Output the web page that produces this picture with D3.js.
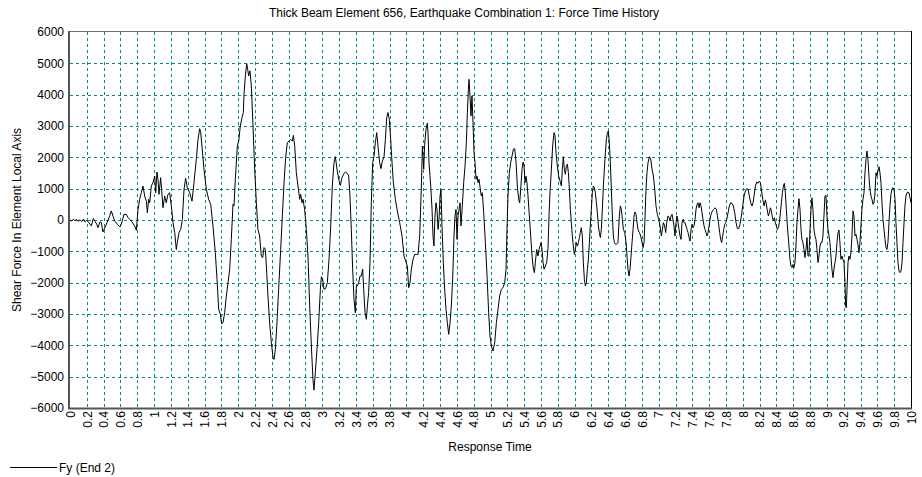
<!DOCTYPE html>
<html>
<head>
<meta charset="utf-8">
<script src="https://cdn.jsdelivr.net/npm/d3@7"></script>
<style>
  html, body { margin: 0; padding: 0; background: #ffffff; }
  svg { display: block; font-family: "Liberation Sans", Arial, sans-serif; }
</style>
</head>
<body>
<svg id="chart" width="922" height="477"></svg>
<script>
// Response time (s) and shear force Fy (End 2) for thick beam element 656
const time = [
  0.000, 0.020, 0.040, 0.060, 0.080, 0.100, 0.120, 0.140, 0.160, 0.180, 0.200, 0.220,
  0.254, 0.277, 0.293, 0.317, 0.333, 0.356, 0.373, 0.392, 0.432, 0.472, 0.491, 0.531,
  0.563, 0.591, 0.610, 0.642, 0.670, 0.690, 0.729, 0.769, 0.789, 0.809, 0.828, 0.848,
  0.868, 0.888, 0.908, 0.920, 0.935, 0.947, 0.967, 0.987, 1.007, 1.019, 1.034, 1.046,
  1.058, 1.078, 1.106, 1.126, 1.145, 1.165, 1.185, 1.205, 1.225, 1.245, 1.264, 1.276,
  1.296, 1.316, 1.336, 1.356, 1.375, 1.395, 1.423, 1.451, 1.474, 1.502, 1.522, 1.542,
  1.554, 1.569, 1.593, 1.621, 1.649, 1.673, 1.700, 1.728, 1.748, 1.768, 1.788, 1.803,
  1.819, 1.839, 1.859, 1.879, 1.899, 1.918, 1.938, 1.950, 1.966, 1.990, 2.006, 2.025,
  2.045, 2.061, 2.069, 2.085, 2.101, 2.113, 2.124, 2.140, 2.156, 2.176, 2.196, 2.216,
  2.235, 2.255, 2.275, 2.291, 2.307, 2.323, 2.339, 2.354, 2.374, 2.394, 2.414, 2.426,
  2.442, 2.461, 2.481, 2.505, 2.525, 2.545, 2.564, 2.584, 2.604, 2.624, 2.644, 2.656,
  2.672, 2.691, 2.711, 2.731, 2.743, 2.759, 2.771, 2.790, 2.810, 2.830, 2.850, 2.870,
  2.889, 2.901, 2.917, 2.937, 2.957, 2.977, 2.989, 3.004, 3.020, 3.040, 3.060, 3.080,
  3.100, 3.119, 3.139, 3.155, 3.175, 3.195, 3.215, 3.234, 3.258, 3.278, 3.298, 3.314,
  3.329, 3.345, 3.361, 3.377, 3.393, 3.405, 3.417, 3.433, 3.448, 3.464, 3.480, 3.492,
  3.508, 3.524, 3.536, 3.551, 3.567, 3.583, 3.599, 3.615, 3.631, 3.647, 3.662, 3.682,
  3.698, 3.714, 3.734, 3.750, 3.766, 3.781, 3.797, 3.813, 3.829, 3.845, 3.869, 3.892,
  3.920, 3.948, 3.972, 3.991, 4.011, 4.027, 4.043, 4.059, 4.079, 4.098, 4.118, 4.138,
  4.158, 4.178, 4.190, 4.206, 4.217, 4.233, 4.249, 4.257, 4.269, 4.289, 4.305, 4.316,
  4.328, 4.340, 4.352, 4.364, 4.376, 4.388, 4.400, 4.412, 4.423, 4.439, 4.455, 4.471,
  4.487, 4.503, 4.519, 4.534, 4.550, 4.566, 4.578, 4.590, 4.602, 4.614, 4.626, 4.638,
  4.649, 4.665, 4.681, 4.697, 4.713, 4.725, 4.737, 4.745, 4.756, 4.768, 4.780, 4.792,
  4.804, 4.816, 4.828, 4.840, 4.852, 4.864, 4.879, 4.891, 4.903, 4.919, 4.939, 4.959,
  4.978, 4.994, 5.010, 5.030, 5.050, 5.070, 5.089, 5.109, 5.129, 5.149, 5.169, 5.185,
  5.196, 5.208, 5.224, 5.240, 5.256, 5.272, 5.288, 5.304, 5.319, 5.335, 5.347, 5.359,
  5.375, 5.387, 5.399, 5.411, 5.422, 5.434, 5.446, 5.462, 5.478, 5.494, 5.510, 5.522,
  5.533, 5.549, 5.565, 5.577, 5.589, 5.601, 5.613, 5.625, 5.637, 5.652, 5.668, 5.684,
  5.696, 5.708, 5.724, 5.739, 5.755, 5.767, 5.779, 5.795, 5.811, 5.827, 5.843, 5.854,
  5.866, 5.878, 5.890, 5.902, 5.914, 5.926, 5.938, 5.950, 5.961, 5.973, 5.985, 5.997,
  6.009, 6.021, 6.033, 6.045, 6.057, 6.068, 6.080, 6.092, 6.104, 6.116, 6.128, 6.140,
  6.152, 6.164, 6.176, 6.187, 6.199, 6.211, 6.223, 6.235, 6.247, 6.259, 6.271, 6.283,
  6.294, 6.306, 6.318, 6.330, 6.342, 6.354, 6.366, 6.378, 6.390, 6.401, 6.413, 6.425,
  6.437, 6.449, 6.461, 6.473, 6.485, 6.501, 6.516, 6.532, 6.544, 6.556, 6.568, 6.580,
  6.596, 6.612, 6.623, 6.635, 6.647, 6.659, 6.671, 6.683, 6.695, 6.707, 6.719, 6.731,
  6.742, 6.754, 6.770, 6.786, 6.802, 6.814, 6.826, 6.838, 6.849, 6.861, 6.873, 6.889,
  6.905, 6.921, 6.937, 6.953, 6.968, 6.984, 7.000, 7.016, 7.032, 7.044, 7.056, 7.071,
  7.083, 7.095, 7.111, 7.123, 7.135, 7.147, 7.159, 7.170, 7.182, 7.194, 7.206, 7.218,
  7.230, 7.242, 7.254, 7.266, 7.277, 7.289, 7.301, 7.313, 7.325, 7.337, 7.349, 7.361,
  7.373, 7.385, 7.396, 7.408, 7.420, 7.432, 7.444, 7.456, 7.468, 7.480, 7.492, 7.503,
  7.515, 7.527, 7.539, 7.551, 7.563, 7.575, 7.587, 7.599, 7.610, 7.622, 7.638, 7.654,
  7.670, 7.686, 7.698, 7.710, 7.725, 7.737, 7.749, 7.761, 7.773, 7.785, 7.797, 7.809,
  7.825, 7.840, 7.856, 7.872, 7.888, 7.904, 7.920, 7.936, 7.951, 7.967, 7.983, 7.999,
  8.015, 8.031, 8.047, 8.062, 8.078, 8.094, 8.110, 8.122, 8.134, 8.150, 8.165, 8.181,
  8.197, 8.209, 8.221, 8.237, 8.253, 8.269, 8.280, 8.292, 8.304, 8.316, 8.328, 8.340,
  8.352, 8.364, 8.376, 8.387, 8.399, 8.411, 8.423, 8.435, 8.447, 8.459, 8.471, 8.483,
  8.494, 8.506, 8.518, 8.530, 8.549, 8.561, 8.573, 8.585, 8.596, 8.608, 8.620, 8.632,
  8.644, 8.656, 8.668, 8.680, 8.692, 8.703, 8.715, 8.727, 8.739, 8.751, 8.763, 8.775,
  8.787, 8.799, 8.811, 8.822, 8.834, 8.846, 8.858, 8.870, 8.882, 8.894, 8.906, 8.918,
  8.929, 8.941, 8.953, 8.965, 8.977, 8.989, 9.001, 9.013, 9.025, 9.036, 9.048, 9.060,
  9.072, 9.084, 9.096, 9.108, 9.120, 9.132, 9.144, 9.155, 9.167, 9.179, 9.191, 9.203,
  9.215, 9.223, 9.231, 9.239, 9.251, 9.262, 9.274, 9.286, 9.298, 9.310, 9.322, 9.334,
  9.346, 9.358, 9.369, 9.381, 9.393, 9.405, 9.417, 9.429, 9.441, 9.453, 9.465, 9.476,
  9.488, 9.500, 9.512, 9.524, 9.536, 9.548, 9.560, 9.572, 9.584, 9.595, 9.607, 9.619,
  9.631, 9.643, 9.655, 9.667, 9.679, 9.691, 9.703, 9.714, 9.726, 9.738, 9.750, 9.762,
  9.774, 9.786, 9.798, 9.810, 9.821, 9.833, 9.845, 9.857, 9.869, 9.881, 9.893, 9.905,
  9.917, 9.928, 9.940, 9.952, 9.964, 9.976, 9.988, 10.000
];

const shearFy = [
  0, -30, 20, -20, 15, -40, 10, -50, 30, -60, -10, -70,
  -190, 50, -30, -130, -245, -60, -85, -380, -140, 130, 290, -30,
  -140, -210, -140, 180, 180, 75, -30, -190, -330, 340, 660, 870,
  1085, 765, 600, 230, 660, 550, 1085, 1190, 1400, 870, 1530, 1300,
  820, 1350, 390, 765, 550, 820, 870, 450, -85, -400, -940, -720,
  -400, -300, 20, 980, 1330, 1030, 870, 600, 1190, 1940, 2570, 2915,
  2790, 2360, 1620, 980, 660, 500, -190, -1040, -1890, -2850, -3010, -3310,
  -3280, -2960, -2430, -2000, -1570, -620, 500, 450, 1300, 2360, 2520, 3000,
  3270, 3430, 4010, 4600, 4990, 4810, 4600, 4760, 4280, 3000, 1620, 550,
  -300, -510, -1150, -1200, -880, -940, -1680, -2430, -3280, -3910, -4390, -4450,
  -4130, -3280, -2210, -940, 130, 1190, 1990, 2470, 2520, 2570, 2520, 2700,
  2360, 1510, 1085, 660, 820, 550, 660, 340, -300, -1150, -2740, -4020,
  -5085, -5430, -4870, -4130, -3280, -2210, -1810, -1890, -2210, -2190, -2000, -1255,
  -190, 1085, 1830, 2020, 1620, 1300, 1105, 1350, 1490, 1530, 1490, 1400,
  765, -300, -1570, -2530, -2960, -2100, -2100, -2000, -1790, -1790, -1570, -2210,
  -2960, -3170, -2740, -2320, -1360, 550, 1830, 2040, 2470, 2790, 2360, 1830,
  1640, 1880, 2020, 2570, 3270, 3430, 3210, 2570, 1830, 1190, 660, 290,
  -85, -510, -1150, -1310, -1470, -2160, -2000, -1570, -1255, -1100, -1100, -1100,
  -510, 1085, 2360, 1620, 2410, 2890, 3090, 2800, 1830, 1085, 340, -510,
  -830, 130, 550, 340, -300, 20, 765, 980, -190, -1360, -2210, -2850,
  -3280, -3650, -3280, -2740, -1890, -510, 130, 340, -620, 130, 340, 550,
  -190, 450, 1190, 1720, 2470, 3430, 4170, 4490, 3960, 3320, 3960, 3110,
  2150, 1830, 1300, 1400, 1190, 1300, 980, 765, 870, 230, -720, -1790,
  -2960, -3700, -4020, -4180, -3910, -3280, -2850, -2430, -2210, -2160, -2000, -1570,
  -300, 765, 1510, 1830, 2040, 2260, 2280, 1830, 1085, 660, 550, 980,
  1620, 1850, 1720, 1190, 1400, 1190, 765, 130, -510, -1150, -1570, -1680,
  -1360, -940, -1150, -940, -830, -720, -940, -1360, -1570, -1470, -1360, -900,
  150, 900, 1620, 2360, 2790, 2700, 2150, 1720, 1400, 1240, 1085, 1620,
  2020, 1620, 1460, 1720, 1780, 1510, 980, 340, -85, -510, -830, -1100,
  -940, -720, -830, -720, -560, -400, -245, -510, -1360, -1890, -2100, -2000,
  -1570, -1255, -720, -190, 340, 870, 1085, 1030, 870, 550, 230, -190,
  -400, -560, -300, 340, 1085, 1620, 2150, 2570, 2790, 2840, 2470, 1830,
  980, 130, -510, -720, -770, -770, -720, 130, 450, 340, 20, -300,
  -400, -720, -1150, -1570, -1790, -1570, -1150, -720, -300, 130, 255, 180,
  -85, -300, -400, -510, -720, -880, -720, 130, 980, 1510, 1830, 2020,
  1940, 1620, 1400, 980, 450, 180, 20, -190, -510, -300, -85, -190,
  -400, -85, 130, 75, -30, 130, 180, 20, -190, -510, -85, 130,
  -85, -300, -510, -620, -85, 20, -85, -85, -190, -300, -400, -560,
  -670, -300, -140, -245, -190, 20, 340, 500, 550, 390, 550, 450,
  230, 20, -190, -300, -400, -510, -400, -190, 20, 180, 290, 340,
  390, 340, 130, -85, -400, -620, -720, -510, -300, -140, -85, 20,
  230, 450, 550, 530, 450, 230, -85, -275, -275, -140, 130, 450,
  765, 925, 1000, 980, 765, 550, 450, 550, 765, 1085, 1210, 1170,
  1240, 1190, 980, 660, 450, 640, 500, 290, 130, 230, 390, 290,
  75, -30, 75, -85, -190, -300, -245, -85, 230, 550, 870, 1085,
  1170, 870, 340, -190, -830, -1255, -1470, -1520, -1420, -1520, -1360, -830,
  -85, 340, 680, 340, -300, -620, -720, -940, -1200, -940, -560, -1150,
  -1150, -300, 340, 710, 340, -300, -510, -620, -940, -1360, -1150, -830,
  -720, -720, -510, 130, 765, 785, 130, -300, -510, -720, -1150, -1570,
  -1840, -1570, -1360, -1150, -720, -400, -320, -720, -1255, -1150, -1255, -1360,
  -2000, -2740, -2800, -2210, -1360, -1150, -1255, -1040, -510, 290, 130, -510,
  -460, -620, -780, -1040, -720, -190, 340, 660, 870, 1510, 1940, 2200,
  1940, 1400, 980, 765, 660, 500, 550, 870, 1510, 1400, 1560, 1700,
  1510, 1190, 550, 20, -300, -620, -880, -940, -720, -85, 450, 820,
  1000, 1030, 980, 660, -85, -720, -1360, -1630, -1680, -1630, -1360, -720,
  -85, 450, 765, 870, 890, 870, 710, 550
];

const xTicks = d3.range(0, 51).map(i => +(i * 0.2).toFixed(1));
const yTicks = d3.range(-6000, 6001, 1000);

const chartTitle = "Thick Beam Element 656, Earthquake Combination 1: Force Time History";
const xTitle = "Response Time";
const yTitle = "Shear Force In Element Local Axis";
const seriesName = "Fy (End 2)";

const svg = d3.select("#chart");
const W = 922, H = 477;
const plot = { left: 70, right: 911, top: 32, bottom: 408 };

const x = d3.scaleLinear().domain([0, 10]).range([plot.left, plot.right]);
const y = d3.scaleLinear().domain([-6000, 6000]).range([plot.bottom, plot.top]);

svg.append("rect").attr("width", W).attr("height", H).attr("fill", "#ffffff");

// dashed grid
const grid = svg.append("g").attr("stroke", "#008b8b").attr("stroke-width", 1)
  .attr("stroke-dasharray", "3,3").attr("shape-rendering", "crispEdges");
grid.selectAll("line.h").data(yTicks.slice(1, -1)).join("line")
  .attr("x1", plot.left).attr("x2", plot.right)
  .attr("y1", d => Math.round(y(d)) + 0.5).attr("y2", d => Math.round(y(d)) + 0.5);
grid.selectAll("line.v").data(xTicks.slice(1, -1)).join("line")
  .attr("y1", plot.top).attr("y2", plot.bottom)
  .attr("x1", d => Math.round(x(d)) + 0.5).attr("x2", d => Math.round(x(d)) + 0.5);

// y axis labels
const yAxis = d3.axisLeft(y).tickValues(yTicks).tickSize(0).tickPadding(6).tickFormat(d3.format("d"));
const gy = svg.append("g").attr("transform", `translate(${plot.left},0)`).call(yAxis);
gy.select(".domain").remove();
gy.selectAll("text").attr("font-size", 12).attr("fill", "#000")
  .attr("font-family", "'Liberation Sans', Arial, sans-serif");

// x axis labels, rotated
const xAxis = d3.axisBottom(x).tickValues(xTicks).tickSize(0).tickPadding(0).tickFormat(d => String(d));
const gx = svg.append("g").attr("transform", `translate(0,${plot.bottom})`).call(xAxis);
gx.select(".domain").remove();
gx.selectAll("text")
  .attr("font-size", 12).attr("fill", "#000")
  .attr("font-family", "'Liberation Sans', Arial, sans-serif")
  .attr("text-anchor", "end")
  .attr("transform", "rotate(-90)")
  .attr("x", -3).attr("y", 0).attr("dy", "0.35em");

// force trace
const pts = time.map((t, i) => [t, shearFy[i]]);
const line = d3.line().x(d => x(d[0])).y(d => y(d[1]));
svg.append("path").datum(pts)
  .attr("d", line).attr("fill", "none").attr("stroke", "#000").attr("stroke-width", 1)
  .attr("stroke-linejoin", "round");

// frame
svg.append("line").attr("x1", plot.left).attr("x2", plot.right + 1)
  .attr("y1", plot.top - 0.5).attr("y2", plot.top - 0.5).attr("stroke", "#6e6e6e");
svg.append("line").attr("x1", plot.right + 0.5).attr("x2", plot.right + 0.5)
  .attr("y1", plot.top - 1).attr("y2", plot.bottom).attr("stroke", "#000");
svg.append("line").attr("x1", plot.left - 1).attr("x2", plot.left - 1)
  .attr("y1", plot.top - 1).attr("y2", plot.bottom + 1).attr("stroke", "#555").attr("stroke-width", 2);
svg.append("line").attr("x1", plot.left - 2).attr("x2", plot.right + 1)
  .attr("y1", plot.bottom + 0.5).attr("y2", plot.bottom + 0.5).attr("stroke", "#555").attr("stroke-width", 2);

// titles
svg.append("text").attr("x", 464).attr("y", 17).attr("text-anchor", "middle")
  .attr("font-size", 12).attr("fill", "#000").text(chartTitle);
svg.append("text").attr("x", 490).attr("y", 451).attr("text-anchor", "middle")
  .attr("font-size", 12).attr("fill", "#000").text(xTitle);
svg.append("text").attr("transform", "translate(21,220) rotate(-90)").attr("text-anchor", "middle")
  .attr("font-size", 12).attr("fill", "#000").text(yTitle);

// legend
svg.append("line").attr("x1", 10).attr("x2", 57).attr("y1", 467.5).attr("y2", 467.5)
  .attr("stroke", "#000").attr("stroke-width", 1);
svg.append("text").attr("x", 59).attr("y", 472).attr("font-size", 12).attr("fill", "#000").text(seriesName);
</script>
</body>
</html>
